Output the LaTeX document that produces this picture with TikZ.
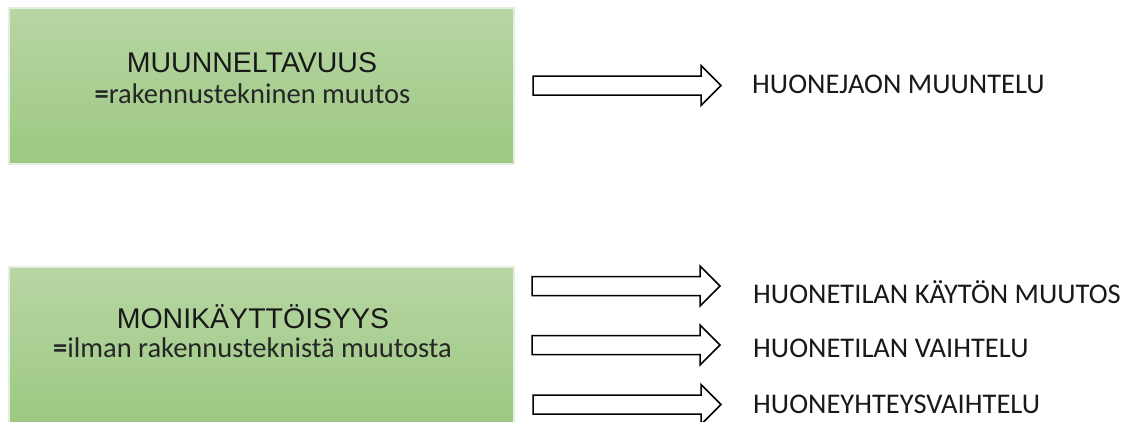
\documentclass[tikz,border=0pt]{standalone}
\usepackage{fontspec}
\setmainfont{Carlito}
\newfontfamily\headfont{Liberation Sans}
\definecolor{boxtop}{HTML}{B7D6A3}
\definecolor{boxbot}{HTML}{9DC883}
\definecolor{boxrim}{HTML}{E2EFDA}
\tikzset{
  x=1pt, y=-1pt,
  greenbox/.style={draw=boxrim, line width=2pt, top color=boxtop, bottom color=boxbot,
    minimum width=505pt, minimum height=156pt, inner sep=0pt, anchor=north west},
  title/.style={font=\headfont\fontsize{28.5}{31}\selectfont, anchor=base, inner sep=0pt, text=black!90},
  subtitle/.style={font=\fontsize{28.5}{32}\selectfont, anchor=base, inner sep=0pt, text=black!85},
  arrowline/.style={draw=black, line width=1.5pt, fill=white, line join=miter},
  pics/blockarrow/.style={code={
    \draw[arrowline] (0,-9.5) -- (168,-9.5) -- (168,-20) -- (188,0) -- (168,20)
      -- (168,9.5) -- (0,9.5) -- cycle;}},
  result/.style={font=\fontsize{28.5}{32}\selectfont, anchor=base west, inner sep=0pt, text=black!90}
}
\begin{document}
\begin{tikzpicture}
\useasboundingbox (0,0) rectangle (1135,421);
% two classification boxes
\node[greenbox] (b1) at (8,7) {};
\node[greenbox] (b2) at (8,266) {};
\node[title] (h1) at (252,72) {MUUNNELTAVUUS};
\node[subtitle] (s1) at (252.5,103) {{\bfseries =}rakennustekninen muutos};
\node[title] (h2) at (253,328) {MONIKÄYTTÖISYYS};
\node[subtitle] (s2) at (252.5,357) {{\bfseries =}ilman rakennusteknistä muutosta};
% block arrows
\coordinate (a1) at (533,85.5);
\coordinate (a2) at (532,286);
\coordinate (a3) at (532,345);
\coordinate (a4) at (533,404.5);
\foreach \c in {a1,a2,a3,a4} \pic at (\c) {blockarrow};
% outcomes
\node[result] (r1) at (752,93) {HUONEJAON MUUNTELU};
\node[result] (r2) at (753,303) {HUONETILAN KÄYTÖN MUUTOS};
\node[result] (r3) at (753,357) {HUONETILAN VAIHTELU};
\node[result] (r4) at (753,413) {HUONEYHTEYSVAIHTELU};
\end{tikzpicture}
\end{document}
